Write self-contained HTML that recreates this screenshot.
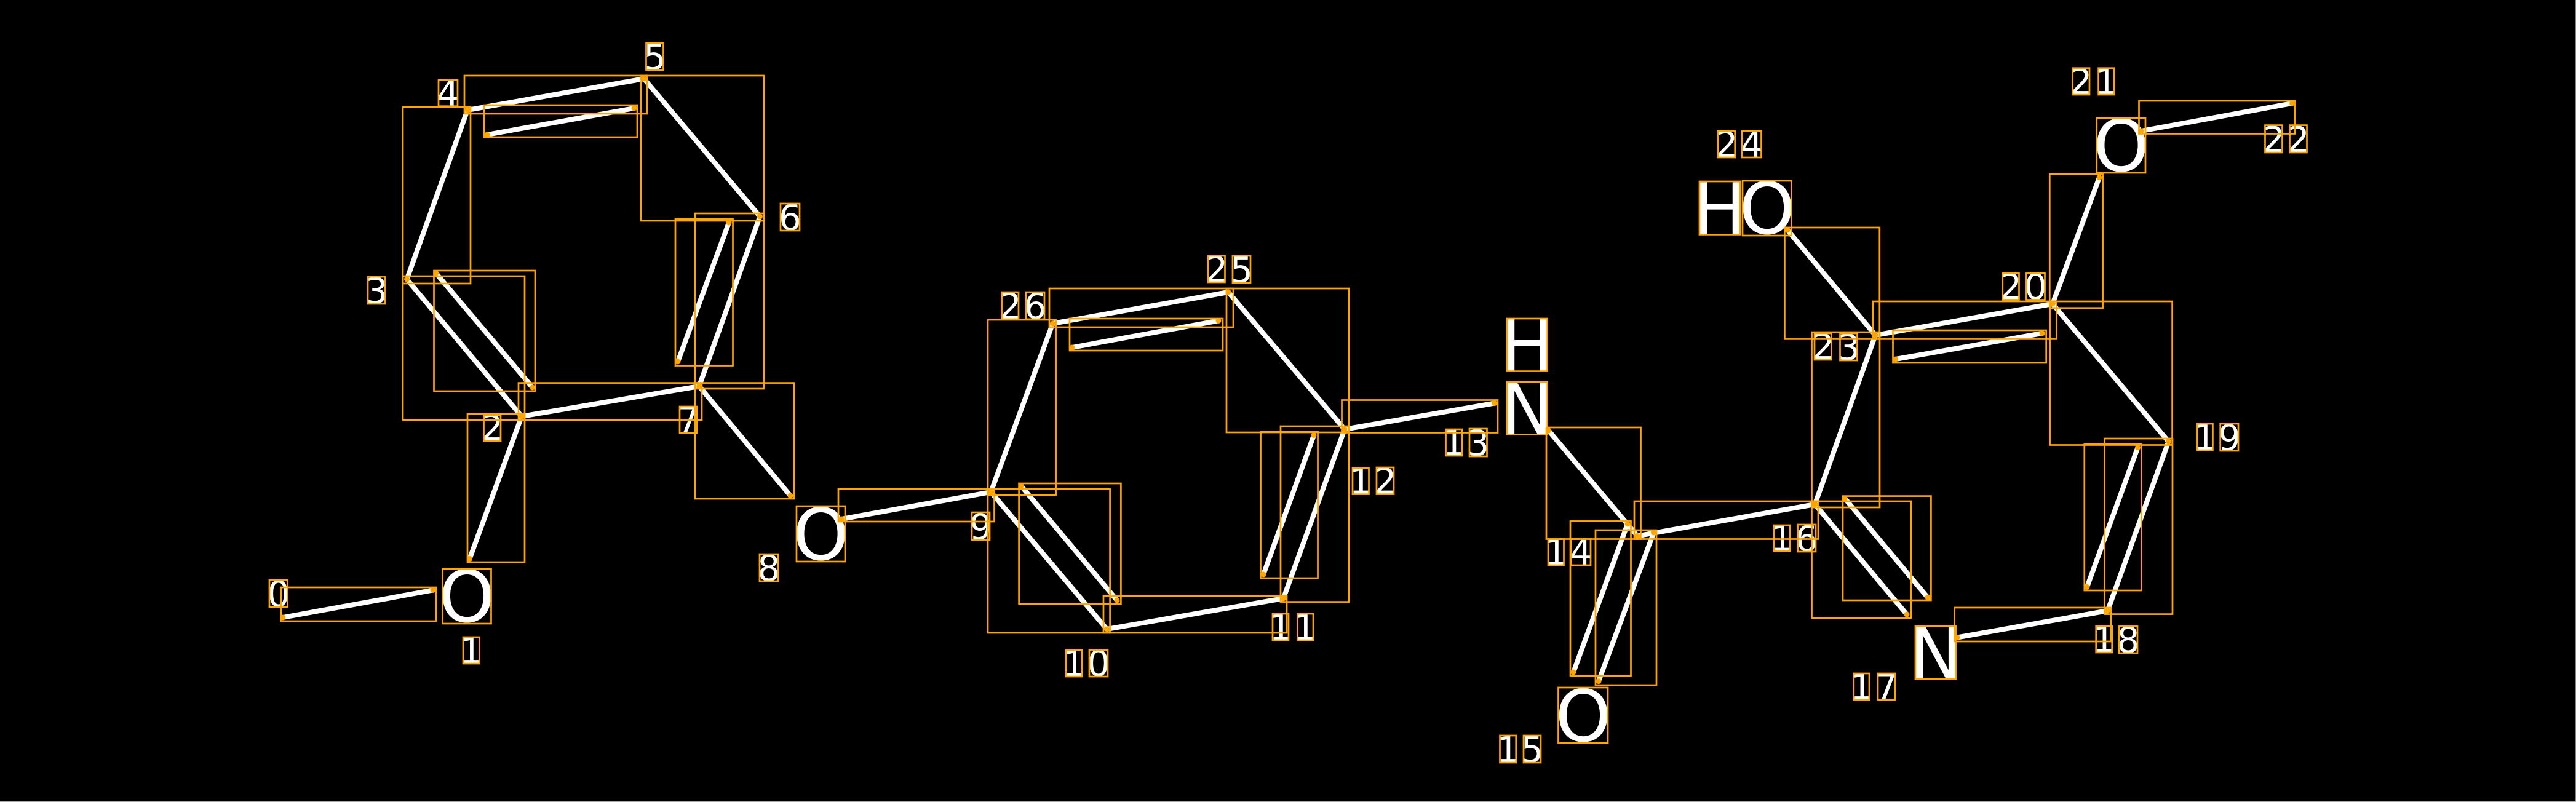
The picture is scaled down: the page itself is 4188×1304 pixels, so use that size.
<!DOCTYPE html>
<html><head><meta charset="utf-8"><title>Molecule diagram</title>
<style>
html,body{margin:0;padding:0;background:#000;width:4188px;height:1304px;overflow:hidden}
svg{display:block}
text{font-family:"DejaVu Sans",sans-serif;fill:#fff;text-anchor:middle}
.d{font-size:58px}
.a{font-size:116px}
.b line{stroke:#fff;stroke-width:8}
.r rect{fill:none;stroke:#ffa500;stroke-width:2.7}
.p circle{fill:#ffa500}
</style></head><body>
<svg width="4188" height="1304" viewBox="0 0 4188 1304" xmlns="http://www.w3.org/2000/svg">
<rect width="4188" height="1304" fill="#000"/>
<rect x="4187" y="0" width="1" height="1304" fill="#888"/>
<rect x="0" y="1303" width="4188" height="1" fill="#aaa"/>
<g class="b">
<line x1="460" y1="1004" x2="704" y2="959.5"/>
<line x1="763.5" y1="908.6" x2="848" y2="677"/>
<line x1="848" y1="677" x2="661.5" y2="454"/>
<line x1="708.7" y1="444" x2="865.6" y2="630"/>
<line x1="661.5" y1="454" x2="760" y2="179"/>
<line x1="760" y1="179" x2="1047" y2="128"/>
<line x1="792" y1="219" x2="1031" y2="176"/>
<line x1="1047" y1="128" x2="1235.4" y2="352"/>
<line x1="1235.4" y1="352" x2="1136.6" y2="628"/>
<line x1="1185" y1="362" x2="1102" y2="588"/>
<line x1="1136.6" y1="628" x2="848" y2="677"/>
<line x1="1136.6" y1="628" x2="1285" y2="806"/>
<line x1="1368" y1="844" x2="1611" y2="800"/>
<line x1="1611" y1="800" x2="1711.5" y2="526"/>
<line x1="1711.5" y1="526" x2="1997" y2="475"/>
<line x1="1743" y1="565" x2="1981" y2="521.4"/>
<line x1="1997" y1="475" x2="2186" y2="698"/>
<line x1="2186" y1="698" x2="2086.5" y2="973"/>
<line x1="2136" y1="707.6" x2="2054" y2="934"/>
<line x1="2086.5" y1="973" x2="1799.5" y2="1023"/>
<line x1="1799.5" y1="1023" x2="1611" y2="800"/>
<line x1="1660" y1="790" x2="1816" y2="976"/>
<line x1="2186" y1="698" x2="2429.6" y2="655.6"/>
<line x1="2517.6" y1="700" x2="2662" y2="871.4"/>
<line x1="2662" y1="871.4" x2="2950.6" y2="820"/>
<line x1="2646" y1="852" x2="2558" y2="1093"/>
<line x1="2688.5" y1="866" x2="2599" y2="1107.6"/>
<line x1="2950.6" y1="820" x2="3049" y2="545"/>
<line x1="2950.6" y1="820" x2="3100" y2="999"/>
<line x1="2999" y1="810" x2="3134" y2="971.4"/>
<line x1="3182" y1="1036.5" x2="3426.5" y2="993"/>
<line x1="3426.5" y1="993" x2="3525.5" y2="718"/>
<line x1="3475.5" y1="727.7" x2="3393" y2="954.4"/>
<line x1="3525.5" y1="718" x2="3337" y2="494"/>
<line x1="3337" y1="494" x2="3049" y2="545"/>
<line x1="3081.8" y1="584" x2="3320" y2="542"/>
<line x1="2906" y1="374" x2="3049" y2="545"/>
<line x1="3337" y1="494" x2="3413" y2="288.6"/>
<line x1="3481" y1="213" x2="3726.6" y2="168"/>
</g>
<g class="d">
<text x="453" y="986">0</text>
<text x="766" y="1078">1</text>
<text x="800" y="716">2</text>
<text x="612" y="493">3</text>
<text x="728.5" y="172">4</text>
<text x="1064.5" y="113">5</text>
<text x="1284.5" y="374">6</text>
<text x="1119" y="703">7</text>
<text x="1250" y="944">8</text>
<text x="1594.5" y="877">9</text>
<text x="1746" y="1099">1</text>
<text x="1786" y="1099">0</text>
<text x="2082" y="1040">1</text>
<text x="2122" y="1040">1</text>
<text x="2212" y="802.5">1</text>
<text x="2252" y="802.5">2</text>
<text x="2363.5" y="740">1</text>
<text x="2403" y="740.5">3</text>
<text x="2530" y="918">1</text>
<text x="2570" y="918">4</text>
<text x="2451.5" y="1239">1</text>
<text x="2491" y="1239">5</text>
<text x="2897" y="895.5">1</text>
<text x="2937" y="896">6</text>
<text x="3026.5" y="1137">1</text>
<text x="3067" y="1137">7</text>
<text x="3420.5" y="1060">1</text>
<text x="3460" y="1061">8</text>
<text x="3585" y="731">1</text>
<text x="3624.5" y="732">9</text>
<text x="3269" y="486.5">2</text>
<text x="3309.5" y="486.5">0</text>
<text x="3383" y="153">2</text>
<text x="3424" y="153">1</text>
<text x="3696.5" y="247">2</text>
<text x="3736.5" y="247">2</text>
<text x="2964" y="584">2</text>
<text x="3005.5" y="585">3</text>
<text x="2807" y="255">2</text>
<text x="2848" y="255">4</text>
<text x="1978" y="458">2</text>
<text x="2018.5" y="459">5</text>
<text x="1642.5" y="518">2</text>
<text x="1683" y="518">6</text>
</g>
<g class="a">
<text x="759" y="1011">O</text>
<text x="1334.5" y="910">O</text>
<text x="2483" y="603">H</text>
<text x="2483" y="706">N</text>
<text x="2574" y="1205">O</text>
<text x="3147" y="1103.5">N</text>
<text x="3448.5" y="278">O</text>
<text x="2796" y="381">H</text>
<text x="2873" y="380">O</text>
</g>
<g class="r">
<rect x="457" y="955" width="252" height="55"/>
<rect x="760" y="673" width="93" height="241"/>
<rect x="655" y="449" width="198" height="234"/>
<rect x="655" y="174" width="110" height="287"/>
<rect x="755" y="123" width="297" height="62"/>
<rect x="787" y="171" width="249" height="52"/>
<rect x="1042" y="123" width="200" height="236"/>
<rect x="1130" y="347" width="112" height="285"/>
<rect x="1098" y="356" width="93.5" height="238.5"/>
<rect x="843" y="622.6" width="298" height="60.4"/>
<rect x="705.5" y="440" width="164.5" height="196"/>
<rect x="1130" y="622.6" width="161" height="188.4"/>
<rect x="1363" y="795" width="253.5" height="53"/>
<rect x="1606" y="520" width="110.6" height="285"/>
<rect x="1706" y="469" width="299" height="63"/>
<rect x="1739" y="518" width="249" height="52"/>
<rect x="1994" y="469" width="199" height="234"/>
<rect x="2082" y="693" width="111" height="285.6"/>
<rect x="2049.5" y="702" width="93" height="238"/>
<rect x="1794" y="969" width="298" height="60"/>
<rect x="1606" y="795" width="198.6" height="234"/>
<rect x="1656.6" y="786" width="165.8" height="196"/>
<rect x="2181.5" y="650.5" width="253.5" height="53"/>
<rect x="2514" y="695" width="153.5" height="181.5"/>
<rect x="2657" y="815" width="299" height="61.5"/>
<rect x="2553" y="847.4" width="98.5" height="251.6"/>
<rect x="2594" y="862" width="99" height="252"/>
<rect x="2945.5" y="540" width="110.5" height="285"/>
<rect x="2945.5" y="815" width="161.5" height="190"/>
<rect x="2996" y="806.6" width="143.4" height="169.4"/>
<rect x="3177.6" y="988" width="254.4" height="55"/>
<rect x="3421.4" y="713" width="110.6" height="285.6"/>
<rect x="3388.8" y="722" width="92.8" height="238"/>
<rect x="3332.6" y="490" width="199" height="233.5"/>
<rect x="3045" y="490" width="298.5" height="61.4"/>
<rect x="3077.5" y="537" width="249.2" height="53"/>
<rect x="2901.4" y="370" width="154.4" height="181.4"/>
<rect x="3332.3" y="283" width="86.3" height="217.7"/>
<rect x="3477.5" y="164" width="253.5" height="53.5"/>
<rect x="438" y="943" width="29.6" height="44"/>
<rect x="719.5" y="925" width="79" height="89"/>
<rect x="753" y="1036" width="26.5" height="43"/>
<rect x="786.5" y="675" width="27.5" height="42"/>
<rect x="598" y="450" width="28" height="44"/>
<rect x="713" y="130" width="31" height="42.7"/>
<rect x="1050.5" y="70" width="28" height="43.7"/>
<rect x="1269" y="331" width="31" height="44"/>
<rect x="1105" y="661" width="28" height="43"/>
<rect x="1295" y="823" width="79" height="90"/>
<rect x="1235" y="901" width="30" height="44"/>
<rect x="1580" y="833" width="29" height="45"/>
<rect x="1733" y="1057" width="26" height="43"/>
<rect x="1771" y="1057" width="30" height="43"/>
<rect x="2069" y="998" width="26" height="43"/>
<rect x="2109.5" y="998" width="25.5" height="43"/>
<rect x="2199" y="761" width="26.5" height="42.6"/>
<rect x="2238" y="760" width="28" height="43.6"/>
<rect x="2350.5" y="698" width="26.2" height="43"/>
<rect x="2389" y="697" width="28.5" height="45"/>
<rect x="2450" y="518" width="65.7" height="85.6"/>
<rect x="2450" y="621" width="65.7" height="85.6"/>
<rect x="2517" y="876.5" width="25.5" height="42.5"/>
<rect x="2554" y="876.5" width="32" height="42.5"/>
<rect x="2533.5" y="1118" width="80.5" height="90"/>
<rect x="2438.5" y="1196" width="26.2" height="44"/>
<rect x="2477" y="1196" width="28" height="44"/>
<rect x="2884" y="854" width="26" height="42.4"/>
<rect x="2922.6" y="853" width="29.4" height="44"/>
<rect x="3114" y="1018" width="65.6" height="86"/>
<rect x="3013.8" y="1095" width="25.2" height="43"/>
<rect x="3053" y="1095" width="28" height="43"/>
<rect x="3407.7" y="1018" width="26" height="43"/>
<rect x="3445" y="1018" width="30" height="44"/>
<rect x="3572.4" y="689" width="25" height="43"/>
<rect x="3609.7" y="689" width="29.3" height="44"/>
<rect x="3255.8" y="444" width="26.7" height="43.5"/>
<rect x="3294.4" y="444" width="30.1" height="43.5"/>
<rect x="3369.5" y="110.7" width="27.5" height="43.3"/>
<rect x="3411.6" y="110.7" width="25.4" height="43.3"/>
<rect x="3408.8" y="192" width="79.2" height="89"/>
<rect x="3682.5" y="203.6" width="28" height="44.4"/>
<rect x="3722.5" y="203.6" width="28" height="44.4"/>
<rect x="2950" y="542" width="27.4" height="43"/>
<rect x="2991.5" y="542" width="28" height="44"/>
<rect x="2793" y="213" width="27.7" height="43"/>
<rect x="2832" y="213" width="31.5" height="43"/>
<rect x="2763" y="295" width="66" height="86.4"/>
<rect x="2833" y="294" width="79.6" height="89"/>
<rect x="1964" y="416" width="27.5" height="43"/>
<rect x="2004" y="416" width="29" height="44"/>
<rect x="1628.6" y="475" width="27.4" height="44"/>
<rect x="1668" y="475" width="30" height="44"/>
</g>
<g class="p">
<circle cx="460" cy="1004" r="4.5"/><circle cx="704" cy="959.5" r="4.5"/>
<circle cx="763.5" cy="908.6" r="4.5"/><circle cx="848" cy="677" r="4.5"/>
<circle cx="661.5" cy="454" r="4.5"/><circle cx="708.7" cy="444" r="4.5"/>
<circle cx="865.6" cy="630" r="4.5"/><circle cx="760" cy="179" r="4.5"/>
<circle cx="1047" cy="128" r="4.5"/><circle cx="792" cy="219" r="4.5"/>
<circle cx="1031" cy="176" r="4.5"/><circle cx="1235.4" cy="352" r="4.5"/>
<circle cx="1136.6" cy="628" r="4.5"/><circle cx="1185" cy="362" r="4.5"/>
<circle cx="1102" cy="588" r="4.5"/><circle cx="1285" cy="806" r="4.5"/>
<circle cx="1368" cy="844" r="4.5"/><circle cx="1611" cy="800" r="4.5"/>
<circle cx="1711.5" cy="526" r="4.5"/><circle cx="1997" cy="475" r="4.5"/>
<circle cx="1743" cy="565" r="4.5"/><circle cx="1981" cy="521.4" r="4.5"/>
<circle cx="2186" cy="698" r="4.5"/><circle cx="2086.5" cy="973" r="4.5"/>
<circle cx="2136" cy="707.6" r="4.5"/><circle cx="2054" cy="934" r="4.5"/>
<circle cx="1799.5" cy="1023" r="4.5"/><circle cx="1660" cy="790" r="4.5"/>
<circle cx="1816" cy="976" r="4.5"/><circle cx="2429.6" cy="655.6" r="4.5"/>
<circle cx="2517.6" cy="700" r="4.5"/><circle cx="2662" cy="871.4" r="4.5"/>
<circle cx="2950.6" cy="820" r="4.5"/><circle cx="2646" cy="852" r="4.5"/>
<circle cx="2558" cy="1093" r="4.5"/><circle cx="2688.5" cy="866" r="4.5"/>
<circle cx="2599" cy="1107.6" r="4.5"/><circle cx="3049" cy="545" r="4.5"/>
<circle cx="3100" cy="999" r="4.5"/><circle cx="2999" cy="810" r="4.5"/>
<circle cx="3134" cy="971.4" r="4.5"/><circle cx="3182" cy="1036.5" r="4.5"/>
<circle cx="3426.5" cy="993" r="4.5"/><circle cx="3525.5" cy="718" r="4.5"/>
<circle cx="3475.5" cy="727.7" r="4.5"/><circle cx="3393" cy="954.4" r="4.5"/>
<circle cx="3337" cy="494" r="4.5"/><circle cx="3081.8" cy="584" r="4.5"/>
<circle cx="3320" cy="542" r="4.5"/><circle cx="2906" cy="374" r="4.5"/>
<circle cx="3413" cy="288.6" r="4.5"/><circle cx="3481" cy="213" r="4.5"/>
<circle cx="3726.6" cy="168" r="4.5"/>
</g>
</svg>
</body></html>
